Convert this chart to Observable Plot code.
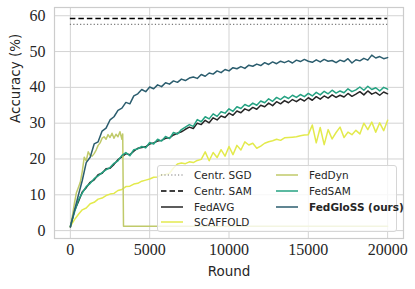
<!DOCTYPE html>
<html>
<head>
<meta charset="utf-8">
<script src="https://cdn.jsdelivr.net/npm/d3@7"></script>
<script src="https://cdn.jsdelivr.net/npm/@observablehq/plot@0.6"></script>
<style>
  html, body { margin: 0; padding: 0; background: #fff; }
  #wrap { position: relative; width: 415px; height: 289px; }
  #legend { position: absolute; left: 157px; top: 165px; width: 240px; height: 67px;
    box-sizing: border-box; background: rgba(255,255,255,0.8); border: 1px solid #d6d6d6; border-radius: 3px; }
  .item { position: absolute; height: 14px; display: flex; align-items: center;
    font-family: "DejaVu Sans", sans-serif; font-size: 10.5px; color: #262626; white-space: nowrap; }
  .item svg { margin-right: 10px; }
</style>
</head>
<body>
<div id="wrap"></div>
<script>
// ---------- data ----------
const rounds = d3.range(0, 20001, 250);

const fedGloSS = [1.0,5.5,9.8,14.0,19.0,20.5,24.2,24.8,27.8,28.6,30.9,31.8,33.6,34.2,35.8,35.4,37.6,38.2,39.4,38.8,
  40.1,39.6,40.7,40.2,41.3,40.9,41.8,41.4,42.3,41.9,42.6,42.9,42.5,43.6,43.1,44.0,43.7,44.6,44.1,45.0,
  44.6,45.5,45.2,45.8,45.3,46.2,45.9,46.5,46.1,46.9,46.4,47.1,46.6,47.3,46.9,47.4,46.8,47.6,47.2,47.8,
  47.3,47.0,47.7,47.1,47.8,47.3,47.5,46.9,47.6,47.2,48.0,46.8,47.7,47.4,48.1,47.6,49.0,48.2,48.6,48.0,48.3];

const fedSAM = [1.2,5.0,8.5,10.5,12.3,13.2,14.5,15.3,16.2,17.0,17.6,18.8,19.5,21.0,21.8,20.9,22.6,22.8,23.5,23.1,
  24.6,24.2,25.5,25.0,26.3,25.7,27.4,27.0,28.2,28.9,29.6,29.1,31.0,30.4,31.8,31.2,32.6,31.9,33.2,32.8,
  34.0,33.3,34.6,34.1,35.2,34.7,35.6,35.0,36.2,35.7,36.8,36.1,37.2,36.6,37.5,36.9,37.8,37.2,38.0,37.4,
  38.3,37.6,38.6,37.9,38.9,38.2,39.2,38.4,39.0,38.5,39.6,38.8,39.3,40.1,39.2,40.3,39.4,39.9,39.0,40.0,39.5];

const fedAVG = [1.0,5.5,8.0,10.8,12.0,13.5,14.2,15.6,16.0,17.3,17.4,18.5,19.8,20.6,21.5,21.2,22.2,23.0,23.2,23.4,
  24.2,24.5,25.0,25.2,25.8,25.9,26.7,27.2,27.6,28.3,28.9,28.5,30.0,29.6,30.8,30.1,31.5,30.9,32.0,31.6,
  32.8,32.2,33.4,32.9,34.0,33.5,34.4,33.9,35.0,34.6,35.6,34.9,36.0,35.4,36.3,35.7,36.6,36.0,36.8,36.2,
  37.1,36.4,37.4,36.7,37.6,37.0,37.9,37.2,37.8,37.3,38.3,37.5,38.1,38.8,37.9,39.0,38.1,38.6,37.8,38.7,38.2];

const scaffold = [1.2,3.0,4.5,5.8,6.3,7.5,7.9,8.8,9.1,9.8,10.2,10.4,11.2,11.5,12.3,12.4,13.0,13.2,13.8,14.1,
  14.4,14.9,15.0,15.6,15.7,16.0,17.5,18.6,18.9,18.7,19.2,19.0,19.6,19.9,22.0,19.5,21.8,20.4,22.6,20.8,
  23.5,21.2,23.8,22.5,24.8,23.9,24.4,23.0,23.6,24.4,24.8,25.1,25.5,25.2,25.9,26.0,26.1,26.2,26.5,26.7,
  26.8,29.5,24.5,28.8,24.0,28.2,25.6,27.4,28.9,26.0,27.5,26.8,28.0,27.0,30.0,28.2,30.3,27.5,30.1,27.9,30.8];

const fedDynRounds = [0,125,250,375,500,625,750,875,1000,1125,1250,1375,1500,1625,1750,1875,2000,2125,2250,2375,
  2500,2625,2750,2875,3000,3125,3250,3300,3350,20000];
const fedDyn = [1.0,4.0,7.5,10.5,12.0,13.5,16.5,20.5,19.5,22.0,21.0,20.8,21.5,22.5,23.8,24.5,25.8,26.2,25.5,26.8,
  26.0,27.2,25.8,26.9,26.2,27.6,25.5,27.0,1.2,1.2];

const centrSGD = 57.6;
const centrSAM = 59.2;

const xTicks = [0, 5000, 10000, 15000, 20000];
const yTicks = [0, 10, 20, 30, 40, 50, 60];

const legendNames = ["Centr. SGD", "Centr. SAM", "FedAVG", "SCAFFOLD", "FedDyn", "FedSAM", "FedGloSS (ours)"];
const legendColors = ["#7a7a7a", "#000000", "#262626", "#e3ea4c", "#c0ca6a", "#25a282", "#2b5d6e"];
const legendDash = ["1.2,2.2", "5.5,3", null, null, null, null, null];

// ---------- table ----------
const series = [
  {name: "FedAVG", vals: fedAVG, r: rounds},
  {name: "SCAFFOLD", vals: scaffold, r: rounds},
  {name: "FedDyn", vals: fedDyn, r: fedDynRounds},
  {name: "FedSAM", vals: fedSAM, r: rounds},
  {name: "FedGloSS (ours)", vals: fedGloSS, r: rounds}
];
const rows = series.flatMap(s => s.vals.map((v, i) => ({series: s.name, round: s.r[i], acc: v})));
const colorOf = Object.fromEntries(legendNames.map((n, i) => [n, legendColors[i]]));

const chart = Plot.plot({
  width: 415, height: 289,
  marginLeft: 54, marginRight: 12, marginTop: 7, marginBottom: 51,
  style: {background: "#fff", overflow: "visible", color: "#262626"},
  x: {domain: [-1000, 21000], axis: null},
  y: {domain: [-2.2, 62.3], axis: null},
  marks: [
    Plot.gridX(xTicks, {stroke: "#d3d3d3", strokeOpacity: 1, strokeWidth: 1}),
    Plot.gridY(yTicks, {stroke: "#d3d3d3", strokeOpacity: 1, strokeWidth: 1}),
    Plot.frame({stroke: "#cccccc", strokeWidth: 1.2}),
    Plot.ruleY([centrSGD], {x1: 0, x2: 20000, stroke: legendColors[0], strokeWidth: 1.2, strokeDasharray: legendDash[0]}),
    Plot.ruleY([centrSAM], {x1: 0, x2: 20000, stroke: legendColors[1], strokeWidth: 1.5, strokeDasharray: legendDash[1]}),
    ...series.map(s => Plot.line(rows.filter(d => d.series === s.name), {
      x: "round", y: "acc", stroke: colorOf[s.name], strokeWidth: 1.5, strokeLinejoin: "round"
    })),
    Plot.text(xTicks, {x: d => d, frameAnchor: "bottom", dy: 16, text: d => String(d),
      fontFamily: "Liberation Serif", fontSize: 16, fill: "#262626"}),
    Plot.text(yTicks, {y: d => d, frameAnchor: "left", dx: -9, textAnchor: "end", text: d => String(d),
      fontFamily: "Liberation Serif", fontSize: 16, fill: "#262626"}),
    Plot.text(["Round"], {frameAnchor: "bottom", dy: 37, fontFamily: "DejaVu Sans", fontSize: 13.5, fill: "#262626"}),
    Plot.text(["Accuracy (%)"], {frameAnchor: "left", dx: -39, rotate: -90, fontFamily: "DejaVu Sans", fontSize: 13.5, fill: "#262626"})
  ]
});

const wrap = document.getElementById("wrap");
wrap.appendChild(chart);

// ---------- legend ----------
const legend = document.createElement("div");
legend.id = "legend";
const colX = [2, 117];
const rowY = [2, 17.8, 33.6, 49.4];
const layout = [[0,0],[0,1],[0,2],[0,3],[1,0],[1,1],[1,2]];
legendNames.forEach((name, i) => {
  const [c, r] = layout[i];
  const it = document.createElement("div");
  it.className = "item";
  it.style.left = colX[c] + "px";
  it.style.top = rowY[r] + "px";
  const dash = legendDash[i] ? `stroke-dasharray="${legendDash[i]}"` : "";
  const sw = i === 0 ? 1.2 : 1.5;
  it.innerHTML = `<svg width="24" height="6"><line x1="1" x2="23" y1="3" y2="3" stroke="${legendColors[i]}" stroke-width="${sw}" ${dash}/></svg>` +
    `<span style="${i === 6 ? "font-weight:bold" : ""}">${name}</span>`;
  legend.appendChild(it);
});
wrap.appendChild(legend);
</script>
</body>
</html>
